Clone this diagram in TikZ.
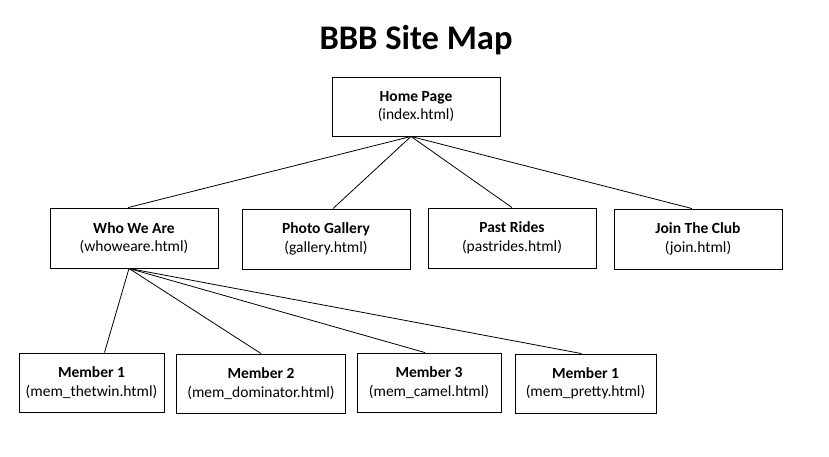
\documentclass[tikz,border=0pt]{standalone}
\usepackage{fontspec}
\setmainfont{Carlito}
\begin{document}
\begin{tikzpicture}[x=1pt,y=-1pt,
  page/.style={draw=black, line width=0.9pt, minimum height=60pt, inner sep=0pt,
    align=center, font=\fontsize{15.5}{18.5}\selectfont},
  link/.style={draw=black, line width=0.8pt}]
\useasboundingbox (0,0) rectangle (829,456);
\node[font=\bfseries\fontsize{34.5}{40}\selectfont] (title) at (416,40) {BBB Site Map};
\node[page, minimum width=168pt, minimum height=59pt] (home) at (416,106.5) {\textbf{Home Page}\\(index.html)};
\node[page, minimum width=168pt] (who) at (134,238) {\textbf{Who We Are}\\(whoweare.html)};
\node[page, minimum width=168pt] (gallery) at (326,239) {\textbf{Photo Gallery}\\(gallery.html)};
\node[page, minimum width=168pt] (past) at (512,238) {\textbf{Past Rides}\\(pastrides.html)};
\node[page, minimum width=168pt] (join) at (698,239) {\textbf{Join The Club}\\(join.html)};
\node[page, minimum width=145pt, minimum height=59pt] (m1) at (91.5,382.5) {\textbf{Member 1}\\(mem\_thetwin.html)};
\node[page, minimum width=169pt, minimum height=59pt] (m2) at (261,383.5) {\textbf{Member 2}\\(mem\_dominator.html)};
\node[page, minimum width=144pt, minimum height=59pt] (m3) at (429,382.5) {\textbf{Member 3}\\(mem\_camel.html)};
\node[page, minimum width=141pt, minimum height=59pt] (m4) at (585.5,383.5) {\textbf{Member 1}\\(mem\_pretty.html)};
\coordinate (hb) at ([xshift=-5pt]home.south);
\coordinate (wb) at ([xshift=-5pt]who.south);
\draw[link] (hb) -- ([xshift=-6pt]who.north);
\draw[link] (hb) -- ([xshift=7pt]gallery.north);
\draw[link] (hb) -- (past.north);
\draw[link] (hb) -- ([xshift=-6pt]join.north);
\draw[link] (wb) -- ([xshift=13pt]m1.north);
\draw[link] (wb) -- (m2.north);
\draw[link] (wb) -- ([xshift=-4pt]m3.north);
\draw[link] (wb) -- ([xshift=-4pt]m4.north);
\end{tikzpicture}
\end{document}
